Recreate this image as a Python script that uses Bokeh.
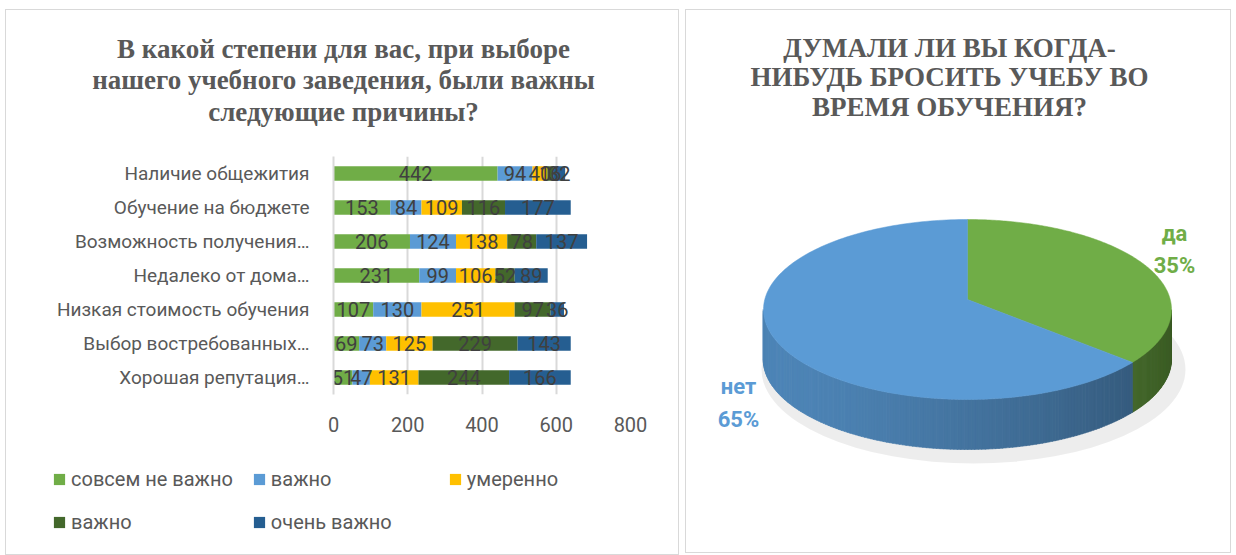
import numpy as np
from bokeh.plotting import figure
from bokeh.models import (FactorRange, Range1d, Legend, LegendItem,
                          FixedTicker, ColumnDataSource)
from bokeh.layouts import row, column
from bokeh.embed import file_html
from bokeh.resources import INLINE
from bokeh.core.properties import value

# ---------------- data ----------------
categories = ["Наличие общежития", "Обучение на бюджете", "Возможность получения…",
              "Недалеко от дома…", "Низкая стоимость обучения",
              "Выбор востребованных…", "Хорошая репутация…"]
series_names = ["совсем не важно", "важно", "умеренно", "важно", "очень важно"]
s1 = [442, 153, 206, 231, 107, 69, 51]
s2 = [94, 84, 124, 99, 130, 73, 47]
s3 = [40, 109, 138, 106, 251, 125, 131]
s4 = [16, 116, 78, 52, 97, 229, 244]
s5 = [32, 177, 137, 89, 36, 143, 166]
x_ticks = [0, 200, 400, 600, 800]

pie_labels = ["да", "нет"]
pie_values = [35, 65]

bar_title = ["В какой степени для вас, при выборе",
             "нашего учебного заведения, были важны",
             "следующие причины?"]
pie_title = ["ДУМАЛИ ЛИ ВЫ КОГДА-", "НИБУДЬ БРОСИТЬ УЧЕБУ ВО", "ВРЕМЯ ОБУЧЕНИЯ?"]

# ---------------- styles ----------------
colors = ["#70ad47", "#5b9bd5", "#ffc000", "#43682b", "#255e91"]
SANS = "Roboto"
SERIF = "Liberation Serif"
GREY = "#595959"
PANEL_STYLE = {"border": "1px solid #d9d9d9"}
LW = 672                      # left panel width
TH, BH, LH = 146, 290, 108    # title / bars / legend heights
RW, RH = 546, 544


def blank(w, h):
    f = figure(width=w, height=h, x_range=Range1d(0, w), y_range=Range1d(h, 0),
               output_backend="svg", toolbar_location=None, min_border=0,
               x_axis_location=None, y_axis_location=None, title=None,
               frame_align=False)
    f.grid.visible = False
    f.outline_line_color = None
    return f


# ---------------- left: title ----------------
t = blank(LW, TH)
t.text(x=[337] * 3, y=[38, 69, 101], text=bar_title, text_align="center",
       text_baseline="middle", text_font=value(SERIF), text_font_style="bold",
       text_font_size="27px", text_color=GREY)

# ---------------- left: stacked bar ----------------
keys = ["s1", "s2", "s3", "s4", "s5"]
src = ColumnDataSource(dict(cat=categories, s1=s1, s2=s2, s3=s3, s4=s4, s5=s5))

p = figure(width=LW, height=BH, y_range=FactorRange(factors=categories[::-1]),
           x_range=Range1d(0, 800), output_backend="svg", toolbar_location=None,
           min_border_left=327, min_border_right=48, min_border_top=0,
           min_border_bottom=52, title=None, frame_align=False)
p.outline_line_color = None

rends = p.hbar_stack(keys, y="cat", height=0.42, color=colors, source=src,
                     line_color=None)

vals = np.array([s1, s2, s3, s4, s5], dtype=float)
lefts = np.vstack([np.zeros(vals.shape[1]), np.cumsum(vals, axis=0)[:-1]])
for i in range(vals.shape[0]):
    p.text(x=list(lefts[i] + vals[i] / 2), y=categories,
           text=[str(int(v)) for v in vals[i]],
           text_align="center", text_baseline="middle",
           text_font=value(SANS), text_font_size="20px", text_color="#404040")

p.xaxis.ticker = FixedTicker(ticks=x_ticks)
p.xaxis.axis_line_color = None
p.xaxis.major_tick_line_color = None
p.xaxis.minor_tick_line_color = None
p.xaxis.major_label_standoff = 16
p.xaxis.major_label_text_font = SANS
p.xaxis.major_label_text_font_size = "20px"
p.xaxis.major_label_text_color = GREY

p.yaxis.axis_line_color = "#d9d9d9"
p.yaxis.axis_line_width = 2
p.yaxis.major_tick_line_color = None
p.yaxis.minor_tick_line_color = None
p.yaxis.major_label_standoff = 18
p.yaxis.major_label_text_font = SANS
p.yaxis.major_label_text_font_size = "19px"
p.yaxis.major_label_text_color = GREY

p.xgrid.grid_line_color = "#d9d9d9"
p.xgrid.grid_line_width = 2
p.ygrid.grid_line_color = None

# ---------------- left: legend ----------------
lg = blank(LW, LH)
lg.y_range = Range1d(0, LH)
# zero-size proxy glyphs that only carry the series colours for the legend
proxies = [lg.hbar(y=[0], left=[0], right=[0], height=0, fill_color=c,
                   line_color=None) for c in colors]
legend = Legend(items=[LegendItem(label=n, renderers=[r]) for n, r in zip(series_names, proxies)],
                location=(46, 20), orientation="horizontal", ncols=3,
                glyph_width=14, glyph_height=14, label_standoff=5, label_width=158,
                label_height=20, spacing=19, padding=0, margin=0,
                border_line_color=None, background_fill_alpha=0,
                label_text_font=SANS, label_text_font_size="20px",
                label_text_color=GREY)
lg.add_layout(legend, "center")

left = column(t, p, lg, spacing=0, styles=PANEL_STYLE, margin=(9, 0, 0, 5))

# ---------------- right: 3D-looking pie ----------------
q = blank(RW, RH)
q.styles = PANEL_STYLE
q.margin = (9, 0, 0, 0)

cx, cy, rx, ry, depth, apex_dy = 281, 299, 204, 90, 50, -10
pie_colors = ["#70ad47", "#5b9bd5"]


def ell(t_deg):
    tt = np.radians(t_deg)
    return cx + rx * np.cos(tt), cy - ry * np.sin(tt)


q.ellipse(x=cx + 6, y=cy + depth + 10, width=2 * rx + 16, height=2 * ry + 8,
          fill_color="#000000", fill_alpha=0.07, line_color=None)

fracs = np.array(pie_values, dtype=float) / sum(pie_values)
starts = 90 - 360 * np.concatenate([[0], np.cumsum(fracs)[:-1]])
ends = starts - 360 * fracs


def shade(hex_color, t_deg):
    r, g, b = (int(hex_color[i:i + 2], 16) for i in (1, 3, 5))
    f = 0.52 + 0.34 * (np.cos(np.radians(t_deg - 200)) + 1) / 2
    return "#%02x%02x%02x" % (int(r * f), int(g * f), int(b * f))


sx, sy, sc = [], [], []
for a0, a1, col in zip(starts, ends, pie_colors):
    ts = np.linspace(a0, a1, 240)
    ts = ts[np.sin(np.radians(ts)) <= 1e-9]
    for i in range(len(ts) - 1):
        t0, t1 = ts[i], ts[i + 1]
        if abs(t1 - t0) > 5:
            continue
        x0, y0 = ell(t0)
        x1, y1 = ell(t1)
        d = 0.4 * np.sign(x1 - x0)
        sx.append([x0, x1 + d, x1 + d, x0])
        sy.append([y0, y1, y1 + depth, y0 + depth])
        sc.append(shade(col, (t0 + t1) / 2))
q.patches(sx, sy, fill_color=sc, line_color=sc, line_width=0.6)

for a0, a1, col in zip(starts, ends, pie_colors):
    ts = np.linspace(a0, a1, 200)
    x, y = ell(ts)
    q.patch(x=np.concatenate([[cx], x]), y=np.concatenate([[cy + apex_dy], y]),
            fill_color=col, line_color=col, line_width=0.5)

q.text(x=[263] * 3, y=[37, 66, 96], text=pie_title, text_align="center",
       text_baseline="middle", text_font=value(SERIF), text_font_style="bold",
       text_font_size="27px", text_color=GREY)

lab_x = [488, 52]
lab_y1 = [223, 376]
lab_y2 = [255, 409]
pcts = ["%d%%" % v for v in pie_values]
q.text(x=lab_x, y=lab_y1, text=pie_labels, text_align="center", text_baseline="middle",
       text_font=value(SANS), text_font_style="bold", text_font_size="22px",
       text_color=pie_colors)
q.text(x=lab_x, y=lab_y2, text=pcts, text_align="center", text_baseline="middle",
       text_font=value(SANS), text_font_style="bold", text_font_size="22px",
       text_color=pie_colors)

layout = row(left, q, spacing=6)
open("out.html", "w").write(file_html(layout, INLINE))
